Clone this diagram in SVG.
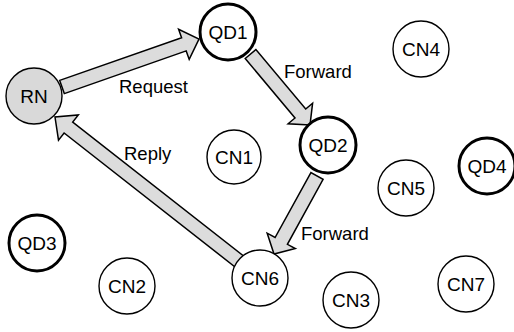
<svg xmlns="http://www.w3.org/2000/svg" width="514" height="332" viewBox="0 0 514 332">
<style>
.arrow{fill:#dcdcdc;stroke:#000;stroke-width:1.5;stroke-linejoin:miter}
.n{fill:#fff;stroke:#000;stroke-width:1.4}
.q{fill:#fff;stroke:#000;stroke-width:3}
.rn{fill:#d9d9d9;stroke:#000;stroke-width:1.4}
text{font-family:"Liberation Sans",Arial,sans-serif;fill:#000}
.nl{font-size:19px;text-anchor:middle}
.el{font-size:18.5px}
</style>
<rect width="514" height="332" fill="#fff"/>
<g id="connectors">
<polygon class="arrow" points="64.3,93.6 186.2,50.9 189.2,59.4 199,39 178.6,29.2 181.6,37.7 59.7,80.4"/>
<polygon class="arrow" points="245.2,58.5 295,118 288.1,123.8 310,125 312.6,103.2 305.7,109 255.9,49.5"/>
<polygon class="arrow" points="310.9,172.6 275.1,237.5 267.2,233.2 274,254 295.3,248.6 287.4,244.3 323.1,179.4"/>
<polygon class="arrow" points="244.3,256.5 72.7,122 78.3,114.9 55,117 58.5,140.1 64.1,133 235.7,267.5"/>
</g>
<g id="labels">
<text class="el" x="119" y="93">Request</text>
<text class="el" x="284" y="78">Forward</text>
<text class="el" x="124" y="160">Reply</text>
<text class="el" x="301" y="240">Forward</text>
</g>
<g id="RN"><circle class="rn" cx="34" cy="96" r="28"/><text class="nl" x="34" y="103">RN</text></g>
<g id="QD1"><circle class="q" cx="228" cy="32" r="28"/><text class="nl" x="228" y="39">QD1</text></g>
<g id="CN4"><circle class="n" cx="421" cy="49" r="28"/><text class="nl" x="421" y="56">CN4</text></g>
<g id="QD2"><circle class="q" cx="328" cy="145" r="28"/><text class="nl" x="328" y="152">QD2</text></g>
<g id="CN1"><circle class="n" cx="234" cy="157" r="27"/><text class="nl" x="234" y="164">CN1</text></g>
<g id="QD4"><circle class="q" cx="487" cy="166" r="28"/><text class="nl" x="487" y="173">QD4</text></g>
<g id="CN5"><circle class="n" cx="406" cy="188" r="28"/><text class="nl" x="406" y="195">CN5</text></g>
<g id="QD3"><circle class="q" cx="37" cy="243" r="28"/><text class="nl" x="37" y="250">QD3</text></g>
<g id="CN2"><circle class="n" cx="127" cy="286" r="28"/><text class="nl" x="127" y="293">CN2</text></g>
<g id="CN6"><circle class="n" cx="260" cy="278" r="28"/><text class="nl" x="260" y="285">CN6</text></g>
<g id="CN3"><circle class="n" cx="351" cy="300" r="28"/><text class="nl" x="351" y="307">CN3</text></g>
<g id="CN7"><circle class="n" cx="466" cy="284" r="28"/><text class="nl" x="466" y="291">CN7</text></g>
</svg>
